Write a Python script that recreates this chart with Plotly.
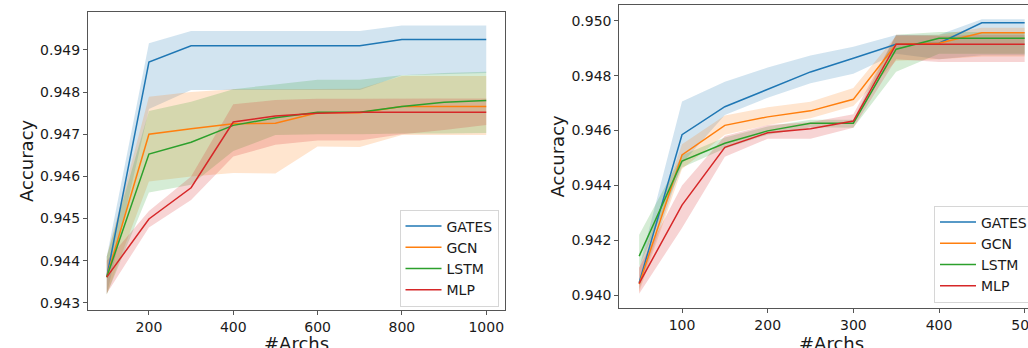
import plotly.graph_objects as go

W, H = 1028, 348

names = ["GATES", "GCN", "LSTM", "MLP"]
colors = ["#1f77b4", "#ff7f0e", "#2ca02c", "#d62728"]
fills = ["rgba(31,119,180,0.2)", "rgba(255,127,14,0.2)", "rgba(44,160,44,0.2)", "rgba(214,39,40,0.2)"]

# ---- left panel ----
x_left = [100, 200, 300, 400, 500, 600, 700, 800, 900, 1000]
gates_l = [0.94361, 0.94871, 0.94910, 0.94910, 0.94910, 0.94910, 0.94910, 0.94925, 0.94925, 0.94925]
gates_l_lo = [0.94320, 0.94760, 0.94805, 0.94805, 0.94805, 0.94805, 0.94805, 0.94840, 0.94842, 0.94845]
gates_l_hi = [0.94410, 0.94916, 0.94945, 0.94945, 0.94945, 0.94945, 0.94945, 0.94958, 0.94958, 0.94958]
gcn_l = [0.94361, 0.94700, 0.94713, 0.94725, 0.94726, 0.94751, 0.94751, 0.94766, 0.94766, 0.94766]
gcn_l_lo = [0.94320, 0.94588, 0.94600, 0.94608, 0.94607, 0.94671, 0.94670, 0.94698, 0.94698, 0.94698]
gcn_l_hi = [0.94410, 0.94789, 0.94800, 0.94807, 0.94807, 0.94808, 0.94808, 0.94838, 0.94838, 0.94838]
lstm_l = [0.94361, 0.94653, 0.94681, 0.94721, 0.94739, 0.94752, 0.94752, 0.94766, 0.94776, 0.94780]
lstm_l_lo = [0.94320, 0.94562, 0.94580, 0.94660, 0.94698, 0.94700, 0.94700, 0.94702, 0.94702, 0.94703]
lstm_l_hi = [0.94410, 0.94755, 0.94777, 0.94807, 0.94818, 0.94829, 0.94829, 0.94840, 0.94845, 0.94848]
mlp_l = [0.94361, 0.94499, 0.94573, 0.94729, 0.94743, 0.94750, 0.94752, 0.94752, 0.94752, 0.94752]
mlp_l_lo = [0.94322, 0.94479, 0.94544, 0.94647, 0.94675, 0.94685, 0.94685, 0.94700, 0.94710, 0.94722]
mlp_l_hi = [0.94400, 0.94518, 0.94600, 0.94771, 0.94781, 0.94784, 0.94784, 0.94785, 0.94785, 0.94785]

# ---- right panel ----
x_right = [50, 100, 150, 200, 250, 300, 350, 400, 450, 500]
gates_r = [0.94045, 0.94585, 0.94687, 0.94751, 0.94814, 0.94864, 0.94915, 0.94919, 0.94993, 0.94993]
gates_r_lo = [0.94020, 0.94480, 0.94657, 0.94720, 0.94773, 0.94807, 0.94880, 0.94860, 0.94875, 0.94875]
gates_r_hi = [0.94100, 0.94706, 0.94778, 0.94830, 0.94874, 0.94906, 0.94949, 0.94950, 0.95006, 0.95006]
gcn_r = [0.94040, 0.94511, 0.94619, 0.94650, 0.94672, 0.94714, 0.94915, 0.94919, 0.94957, 0.94957]
gcn_r_lo = [0.94010, 0.94460, 0.94585, 0.94620, 0.94645, 0.94690, 0.94855, 0.94860, 0.94870, 0.94870]
gcn_r_hi = [0.94100, 0.94550, 0.94655, 0.94685, 0.94705, 0.94755, 0.94945, 0.94950, 0.94975, 0.94975]
lstm_r = [0.94142, 0.94489, 0.94554, 0.94599, 0.94627, 0.94627, 0.94897, 0.94937, 0.94937, 0.94937]
lstm_r_lo = [0.94105, 0.94465, 0.94535, 0.94585, 0.94612, 0.94610, 0.94815, 0.94880, 0.94880, 0.94880]
lstm_r_hi = [0.94220, 0.94510, 0.94575, 0.94615, 0.94640, 0.94640, 0.94950, 0.94960, 0.94960, 0.94960]
mlp_r = [0.94043, 0.94328, 0.94539, 0.94592, 0.94607, 0.94635, 0.94915, 0.94915, 0.94915, 0.94915]
mlp_r_lo = [0.94005, 0.94245, 0.94505, 0.94570, 0.94570, 0.94610, 0.94860, 0.94850, 0.94850, 0.94850]
mlp_r_hi = [0.94100, 0.94400, 0.94580, 0.94620, 0.94630, 0.94660, 0.94950, 0.94945, 0.94950, 0.94950]

x_ticks_left = [200, 400, 600, 800, 1000]
y_ticks_left = [0.943, 0.944, 0.945, 0.946, 0.947, 0.948, 0.949]
x_ticks_right = [100, 200, 300, 400, 500]
y_ticks_right = [0.940, 0.942, 0.944, 0.946, 0.948, 0.950]

left_series = [(gates_l, gates_l_lo, gates_l_hi), (gcn_l, gcn_l_lo, gcn_l_hi),
               (lstm_l, lstm_l_lo, lstm_l_hi), (mlp_l, mlp_l_lo, mlp_l_hi)]
right_series = [(gates_r, gates_r_lo, gates_r_hi), (gcn_r, gcn_r_lo, gcn_r_hi),
                (lstm_r, lstm_r_lo, lstm_r_hi), (mlp_r, mlp_r_lo, mlp_r_hi)]

fig = go.Figure()

def add_panel(xs, series, xa, ya, legend_name):
    for i, (m, lo, hi) in enumerate(series):
        fig.add_trace(go.Scatter(x=xs, y=hi, mode="lines", line=dict(width=0, color=fills[i]),
                                 showlegend=False, hoverinfo="skip", xaxis=xa, yaxis=ya))
        fig.add_trace(go.Scatter(x=xs, y=lo, mode="lines", line=dict(width=0, color=fills[i]),
                                 fill="tonexty", fillcolor=fills[i],
                                 showlegend=False, hoverinfo="skip", xaxis=xa, yaxis=ya))
    for i, (m, lo, hi) in enumerate(series):
        fig.add_trace(go.Scatter(x=xs, y=m, mode="lines", name=names[i],
                                 line=dict(width=1.5, color=colors[i]),
                                 xaxis=xa, yaxis=ya, legend=legend_name))

add_panel(x_left, left_series, "x", "y", "legend")
add_panel(x_right, right_series, "x2", "y2", "legend2")

FONT = "DejaVu Sans"
tickfont = dict(family=FONT, size=14, color="#1a1a1a")
axline = dict(showline=True, linecolor="#555", linewidth=1, ticks="outside", ticklen=4,
              tickwidth=1, tickcolor="#555", showgrid=False, zeroline=False, tickfont=tickfont,
              ticklabeloverflow="allow")
legstyle = dict(bgcolor="rgba(255,255,255,0.85)", bordercolor="#d6d6d6", borderwidth=1,
                font=dict(family=FONT, size=14, color="#1a1a1a"), itemwidth=36,
                tracegroupgap=0, traceorder="normal")

fig.update_layout(
    width=W, height=H,
    margin=dict(l=0, r=0, t=0, b=0, autoexpand=False),
    paper_bgcolor="white", plot_bgcolor="white",
    xaxis=dict(domain=[88/W, 505/W], range=[55.5, 1044.5], tickvals=x_ticks_left,
               mirror=True, anchor="y", **axline),
    yaxis=dict(domain=[1-310/H, 1-12/H], range=[0.94283, 0.94990], tickvals=y_ticks_left,
               tickformat=".3f", mirror=True, anchor="x", **axline),
    xaxis2=dict(domain=[619.3/W, 1.0], range=[26.8, 503.9], tickvals=x_ticks_right,
                mirror=True, anchor="y2", **axline),
    yaxis2=dict(domain=[1-307.7/H, 1-5.3/H], range=[0.93954, 0.95057], tickvals=y_ticks_right,
                tickformat=".3f", mirror=False, anchor="x2", **axline),
    legend=dict(x=498.5/W, y=1-306.5/H, xanchor="right", yanchor="bottom", **legstyle),
    legend2=dict(x=934/W, y=1-302.5/H, xanchor="left", yanchor="bottom", **legstyle),
    annotations=[
        dict(text="#Archs", x=296.5/W, y=1-343/H, xref="paper", yref="paper", showarrow=False,
             xanchor="center", yanchor="middle", font=dict(family=FONT, size=18, color="#1a1a1a")),
        dict(text="#Archs", x=831.5/W, y=1-343/H, xref="paper", yref="paper", showarrow=False,
             xanchor="center", yanchor="middle", font=dict(family=FONT, size=18, color="#1a1a1a")),
        dict(text="Accuracy", x=26/W, y=1-161/H, xref="paper", yref="paper", showarrow=False,
             textangle=-90, xanchor="center", yanchor="middle",
             font=dict(family=FONT, size=18, color="#1a1a1a")),
        dict(text="Accuracy", x=557/W, y=1-156.5/H, xref="paper", yref="paper", showarrow=False,
             textangle=-90, xanchor="center", yanchor="middle",
             font=dict(family=FONT, size=18, color="#1a1a1a")),
    ],
)

fig.write_html("out.html", config={"displayModeBar": False},
               post_script="document.body.style.margin='0';document.body.style.overflow='hidden';")
